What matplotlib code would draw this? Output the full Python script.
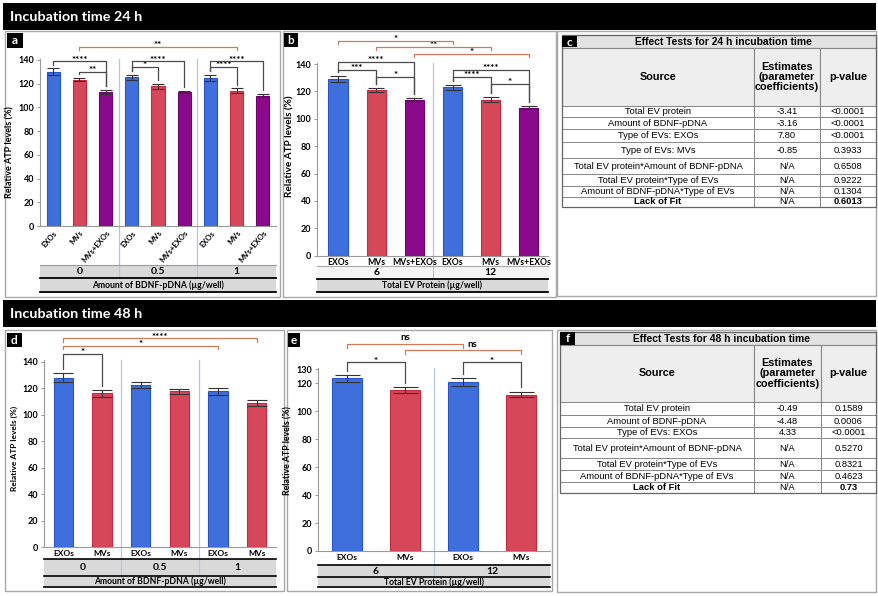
import matplotlib
matplotlib.use('Agg')
import matplotlib.pyplot as plt
from matplotlib.patches import Rectangle
from matplotlib import font_manager as fm

W, H = 879, 596
plt.rcParams['font.family'] = ['Lato', 'DejaVu Sans']

# ---------------- data ----------------
types3 = ['EXOs', 'MVs', 'MVs+EXOs']
types2 = ['EXOs', 'MVs']
dna_levels = ['0', '0.5', '1']
protein_levels = ['6', '12']

a_vals = [130, 123.5, 113, 125.5, 118, 113, 125, 114, 110]
a_err = [2.8, 1.4, 1.7, 2.1, 2.1, 1.1, 2.7, 2.1, 1.4]
b_vals = [129, 121, 114, 123, 114, 108]
b_err = [2.0, 1.6, 0.9, 1.8, 2.0, 1.1]
d_vals = [128, 116, 122.5, 117.5, 117.5, 109]
d_err = [3.5, 2.5, 2.5, 2.0, 2.5, 2.2]
e_vals = [123.5, 115, 121, 112]
e_err = [2.6, 2.1, 2.6, 2.1]

# significance brackets: (bar i, bar j, label)
a_sig = [(0, 2, '****'), (1, 2, '**'), (3, 5, '****'), (3, 4, '*'), (6, 8, '****'), (6, 7, '****')]
a_sig_between = [(1, 7, '**')]
b_sig = [(0, 2, '****'), (0, 1, '***'), (1, 2, '*'), (3, 5, '****'), (3, 4, '****'), (4, 5, '*')]
b_sig_between = [(0, 3, '*'), (1, 4, '**'), (2, 5, '*')]
d_sig = [(0, 1, '*')]
d_sig_between = [(0, 4, '*'), (0, 5, '****')]
e_sig = [(0, 1, '*'), (2, 3, '*')]
e_sig_between = [(0, 2, 'ns'), (1, 3, 'ns')]

table_header = ['Source', 'Estimates\n(parameter\ncoefficients)', 'p-value']
c_source = ['Total EV protein', 'Amount of BDNF-pDNA', 'Type of EVs: EXOs', 'Type of EVs: MVs',
            'Total EV protein*Amount of BDNF-pDNA', 'Total EV protein*Type of EVs',
            'Amount of BDNF-pDNA*Type of EVs', 'Lack of Fit']
c_est = ['-3.41', '-3.16', '7.80', '-0.85', 'N/A', 'N/A', 'N/A', 'N/A']
c_p = ['<0.0001', '<0.0001', '<0.0001', '0.3933', '0.6508', '0.9222', '0.1304', '0.6013']
f_source = ['Total EV protein', 'Amount of BDNF-pDNA', 'Type of EVs: EXOs',
            'Total EV protein*Amount of BDNF-pDNA', 'Total EV protein*Type of EVs',
            'Amount of BDNF-pDNA*Type of EVs', 'Lack of Fit']
f_est = ['-0.49', '-4.48', '4.33', 'N/A', 'N/A', 'N/A', 'N/A']
f_p = ['0.1589', '0.0006', '<0.0001', '0.5270', '0.8321', '0.4623', '0.73']

# ---------------- layout (bracket heights in axis units, text x-offsets in points) ----------------
a_sig_y = [139, 130, 139, 134, 139, 134]
a_between_y = [151]
b_sig_y = [141.5, 135.7, 130.5, 135.7, 130.5, 125.5]
b_between_y = [156.8, 152.4, 147.3]
d_sig_y = [146]
d_between_y = [152, 157.5]
e_sig_y = [135, 135]
e_between_y = [148, 143.6]
e_between_dx = [0, 7]

colors = {'EXOs': '#3f6fdc', 'MVs': '#d6475a', 'MVs+EXOs': '#8b0a8b'}
edges = {'EXOs': '#2a55c8', 'MVs': '#c42a40', 'MVs+EXOs': '#700070'}

# ---------------- table font ----------------
try:
    fm.findfont(fm.FontProperties(family='Liberation Sans Narrow'), fallback_to_default=False)
    TFONT = ['Liberation Sans Narrow', 'Liberation Sans']
    tsc = 1.0
except Exception:
    TFONT = ['Liberation Sans', 'DejaVu Sans']
    tsc = 0.82

fig = plt.figure(figsize=(W / 100, H / 100), dpi=100)
bg = fig.add_axes([0, 0, 1, 1], zorder=0)
bg.set_xlim(0, W)
bg.set_ylim(H, 0)
bg.axis('off')


def rect(x0, y0, x1, y1, fc='none', ec='none', lw=1.0, z=1):
    bg.add_patch(Rectangle((x0, y0), x1 - x0, y1 - y0, facecolor=fc, edgecolor=ec, linewidth=lw, zorder=z))


def letter(x0, y0, x1, y1, ch):
    rect(x0, y0, x1, y1, fc='black', z=5)
    bg.text((x0 + x1) / 2, (y0 + y1) / 2 + 0.5, ch, color='white', fontsize=8.5, fontweight='bold',
            ha='center', va='center', zorder=6)


# headers
rect(3, 3, 876, 30, fc='black')
bg.text(10, 17, 'Incubation time 24 h', color='white', fontsize=10.4, fontweight='bold', va='center')
rect(3, 300, 876, 327, fc='black')
bg.text(10, 314, 'Incubation time 48 h', color='white', fontsize=10.4, fontweight='bold', va='center')

# panel boxes
for (x0, y0, x1, y1) in [(5, 31, 280, 297), (283, 31, 556, 297), (557, 31, 876, 296),
                         (5, 330, 284, 591), (287, 330, 552, 591), (557, 330, 876, 592)]:
    rect(x0, y0, x1, y1, ec='#a8a8a8', lw=1.0, z=1)

letter(7, 33, 23, 48, 'a')
letter(284, 33, 298, 47, 'b')
letter(7, 333, 22, 347, 'd')
letter(288, 333, 300, 347, 'e')


def chart(l, r, zero, ppu, ymax, xlim, yticks, vals, errs, types, levels, axis_title,
          width, capsize, rot, sig, sig_y, sig_b, sig_b_y, lines, band1, band2, band1_color,
          ylab_xy, ylab_fs, tick_fs, tick_pad, drop_b, sig_b_dx=None, gap=3.0,
          band_fs=7.5, title_fs=6.2):
    top = zero - ymax * ppu
    ax = fig.add_axes([l / W, 1 - zero / H, (r - l) / W, (zero - top) / H], zorder=2)
    ax.set_facecolor('none')
    n = len(vals)
    xs = list(range(n))
    ntype = len(types)
    labs = [types[i % ntype] for i in xs]
    ax.bar(xs, vals, width=width, color=[colors[t] for t in labs],
           edgecolor=[edges[t] for t in labs], linewidth=0.8, zorder=3)
    ax.errorbar(xs, vals, yerr=errs, fmt='none', ecolor='#333333', elinewidth=0.8,
                capsize=capsize, capthick=0.8, zorder=4)
    ax.set_xlim(*xlim)
    ax.set_ylim(0, ymax)
    ax.set_yticks(yticks)
    ax.set_yticklabels([str(t) for t in yticks], fontsize=6.5, fontweight='bold')
    ax.tick_params(axis='y', length=2.5, width=0.6, color='#888888', pad=1.5)
    ax.set_xticks(xs)
    if rot:
        ax.set_xticklabels(labs, fontsize=tick_fs, fontweight='bold', rotation=rot,
                           ha='right', va='top', rotation_mode='anchor')
    else:
        ax.set_xticklabels(labs, fontsize=tick_fs, fontweight='bold')
    ax.tick_params(axis='x', length=0, pad=tick_pad)
    for s in ['top', 'right']:
        ax.spines[s].set_visible(False)
    for s in ['left', 'bottom']:
        ax.spines[s].set_color('#999999')
        ax.spines[s].set_linewidth(0.8)

    def fr(ypx):
        return (zero - ypx) / (zero - top)

    tr = ax.get_xaxis_transform()
    xlo, xhi = xlim
    # bands
    ax.add_patch(Rectangle((xlo, fr(band1[1])), xhi - xlo, fr(band1[0]) - fr(band1[1]), transform=tr,
                           facecolor=band1_color, edgecolor='none', clip_on=False, zorder=1))
    ax.add_patch(Rectangle((xlo, fr(band2[1])), xhi - xlo, fr(band2[0]) - fr(band2[1]), transform=tr,
                           facecolor='#d9d9d9', edgecolor='none', clip_on=False, zorder=1))
    for (ypx, c, lw) in lines:
        ax.plot([xlo, xhi], [fr(ypx), fr(ypx)], transform=tr, color=c, lw=lw, clip_on=False, zorder=2)
    # group separators
    ngroups = len(levels)
    for g in range(1, ngroups):
        xsep = g * ntype - 0.5
        ax.plot([xsep, xsep], [1.0, fr(band1[1])], transform=tr, color='#b8c6dc', lw=0.9,
                clip_on=False, zorder=1)
    for g, lev in enumerate(levels):
        xc = g * ntype + (ntype - 1) / 2
        ax.text(xc, fr((band1[0] + band1[1]) / 2), lev, transform=tr, ha='center', va='center',
                fontsize=band_fs, fontweight='bold', clip_on=False)
    ax.text((xlo + xhi) / 2, fr((band2[0] + band2[1]) / 2), axis_title, transform=tr, ha='center',
            va='center', fontsize=title_fs, fontweight='bold', clip_on=False)
    # y label
    ax.set_ylabel('Relative ATP levels (%)', fontsize=ylab_fs, fontweight='bold')
    ax.yaxis.set_label_coords((ylab_xy[0] - l) / (r - l), fr(ylab_xy[1]))

    # brackets
    def br(i, j, y, txt, color, drop=None, dx=0):
        if drop is None:
            y1 = vals[i] + errs[i] + gap
            y2 = vals[j] + errs[j] + gap
        else:
            y1 = y2 = y - drop
        ax.plot([i, i, j, j], [y1, y, y, y2], color=color, lw=0.9, clip_on=False, zorder=5)
        dy = 4.5 if txt == 'ns' else 0.8
        ax.annotate(txt, xy=((i + j) / 2, y), xytext=(dx, dy), textcoords='offset points',
                    ha='center', va='center', fontsize=7, fontweight='bold', annotation_clip=False)

    for (i, j, t), y in zip(sig, sig_y):
        br(i, j, y, t, '#4a4a4a')
    if sig_b_dx is None:
        sig_b_dx = [0] * len(sig_b)
    for (i, j, t), y, dx in zip(sig_b, sig_b_y, sig_b_dx):
        br(i, j, y, t, '#d07a5a', drop=drop_b, dx=dx)
    return ax


chart(40, 276, 226, 1.186, 141, (-0.5, 8.5), [0, 20, 40, 60, 80, 100, 120, 140],
      a_vals, a_err, types3, dna_levels, 'Amount of BDNF-pDNA (µg/well)',
      0.5, 4.5, 50, a_sig, a_sig_y, a_sig_between, a_between_y,
      [(265, '#999999', 0.8), (277.5, 'black', 1.3), (292, 'black', 1.3)],
      (265, 277.5), (277.5, 292), '#d9d9d9', (14, 152), 6.5, 5.5, 2.5, 2.8)

chart(317, 548, 255.7, 1.369, 141, (-0.55, 5.5), [0, 20, 40, 60, 80, 100, 120, 140],
      b_vals, b_err, types3, protein_levels, 'Total EV Protein (µg/well)',
      0.5, 6, 0, b_sig, b_sig_y, b_sig_between, b_between_y,
      [(266, '#aaaaaa', 0.8), (278.5, 'black', 1.3), (292, 'black', 1.3)],
      (266, 278.5), (278.5, 292), '#f5f5f5', (294, 146), 7.2, 6.2, 1.5, 2.4)

chart(44, 276, 547.3, 1.326, 141, (-0.5, 5.5), [0, 20, 40, 60, 80, 100, 120, 140],
      d_vals, d_err, types2, dna_levels, 'Amount of BDNF-pDNA (µg/well)',
      0.5, 7, 0, d_sig, d_sig_y, d_sig_between, d_between_y,
      [(559, 'black', 1.2), (575.5, 'black', 1.2), (587, 'black', 1.2)],
      (559, 575.5), (575.5, 587), '#d9d9d9', (18, 448), 6.0, 6, 2.0, 2.5)

chart(318, 550, 551, 1.397, 131, (-0.5, 3.5), [0, 20, 40, 60, 80, 100, 120, 130],
      e_vals, e_err, types2, protein_levels, 'Total EV Protein (µg/well)',
      0.52, 9, 0, e_sig, e_sig_y, e_sig_between, e_between_y,
      [(565, 'black', 1.2), (577, 'black', 1.2), (587, 'black', 1.2)],
      (565, 577), (577, 587), '#d9d9d9', (292, 451), 6.3, 6, 2.5, 2.4, sig_b_dx=e_between_dx)


def table(cols, title_y, header_y, row_b, src, est, pv, title, let, letbox):
    x0, x1, x2, x3 = cols
    rect(x0, title_y[0], x3, title_y[1], fc='#e2e2e2', ec='#777777', lw=0.8, z=2)
    bg.text((x0 + x3) / 2 + 4, (title_y[0] + title_y[1]) / 2 + 0.5, title, fontsize=9 * tsc,
            fontweight='bold', family=TFONT, ha='center', va='center', zorder=3)
    letter(*letbox, let)
    hx = [x0, x1, x2, x3]
    for k in range(3):
        rect(hx[k], header_y[0], hx[k + 1], header_y[1], fc='#eeeeee', ec='#888888', lw=0.8, z=2)
        bg.text((hx[k] + hx[k + 1]) / 2, (header_y[0] + header_y[1]) / 2, table_header[k],
                fontsize=9.6 * tsc, fontweight='bold', family=TFONT, ha='center', va='center',
                linespacing=1.05, zorder=3)
    nrow = len(src)
    for rr in range(nrow):
        ya, yb = row_b[rr], row_b[rr + 1]
        last = rr == nrow - 1
        cells = [src[rr], est[rr], pv[rr]]
        weights = ['bold' if last else 'normal', 'normal', 'bold' if last else 'normal']
        for k in range(3):
            rect(hx[k], ya, hx[k + 1], yb, fc='white', ec='#888888', lw=0.7, z=2)
            bg.text((hx[k] + hx[k + 1]) / 2, (ya + yb) / 2 + 0.3, cells[k], fontsize=8.2 * tsc,
                    fontweight=weights[k], family=TFONT, ha='center', va='center', zorder=3)
    rect(x0, title_y[0], x3, row_b[-1], ec='#666666', lw=0.9, z=4)


table((562, 754, 820, 876), (35, 48), (48, 106),
      [106, 117.3, 129.3, 141.7, 158.3, 174, 185.7, 196.7, 206.7],
      c_source, c_est, c_p, 'Effect Tests for 24 h incubation time', 'c', (562, 36, 577, 47))

table((560, 754, 821, 876), (332, 345), (345, 402),
      [402, 415, 426.7, 438.3, 457.7, 470, 481.7, 493.3],
      f_source, f_est, f_p, 'Effect Tests for 48 h incubation time', 'f', (560, 332, 575, 345))

fig.savefig('out.png', dpi=100)
